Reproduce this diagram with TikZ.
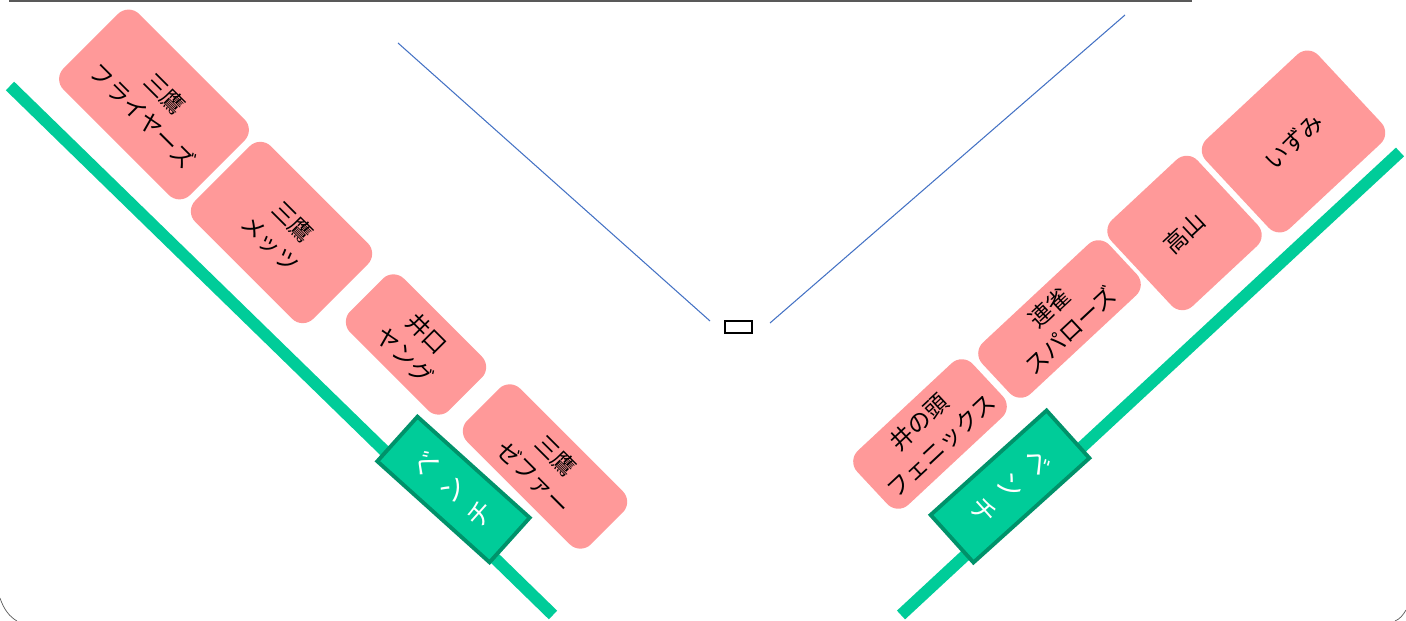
\documentclass[tikz,border=0pt]{standalone}
\usepackage{fontspec}
\newfontfamily\jpfont{Noto Sans CJK JP}
\usepackage{tikz}
\usepackage{color}

\definecolor{teamred}{RGB}{255,153,153}
\definecolor{benchgreen}{RGB}{0,204,153}
\definecolor{benchdark}{RGB}{0,146,106}
\definecolor{foulblue}{RGB}{68,114,196}

\tikzset{
  team/.style={fill=teamred, rounded corners=0.3cm, align=center, inner sep=0pt,
    font=\jpfont\fontsize{13.2}{18}\selectfont},
  bench/.style={fill=benchgreen, draw=benchdark, line width=2.2pt, align=center,
    text=white, inner sep=0pt, font=\jpfont\fontsize{15}{21}\selectfont},
  foulline/.style={foulblue, line width=0.6pt},
  benchline/.style={benchgreen, line width=6.8pt}
}

\begin{document}
\begin{tikzpicture}

\useasboundingbox (0,0) rectangle (28.12,12.42);

\draw[gray!70!black, line width=1.3pt] (0.18,12.41) -- (23.84,12.41);

\draw[gray!70!black] (0,0.46) .. controls (0.08,0.22) and (0.2,0.08) .. (0.34,0);

\draw[gray!70!black] (28.12,0.22) .. controls (28.06,0.12) and (28.0,0.04) .. (27.9,0);

\draw[foulline] (7.96,11.56) -- (14.20,6.00);

\draw[foulline] (22.50,12.12) -- (15.40,5.96);

\node[draw, line width=0.6pt, fill=white, minimum width=0.54cm, minimum height=0.24cm, inner sep=0pt] (home) at (14.77,5.88) {};

\draw[benchline] (0.20,10.70) -- (11.06,0.12);

\draw[benchline] (28.00,9.38) -- (18.02,0.12);

\node[bench, rotate=48, minimum width=1.20cm, minimum height=3.02cm] (benchleft) at (9.07,2.63) {ベ\\ン\\チ};

\node[bench, rotate=-48, minimum width=1.28cm, minimum height=3.12cm] (benchright) at (20.20,2.69) {ベ\\ン\\チ};

\node[team, rotate=-45, minimum width=3.58cm, minimum height=2.14cm] (fryers) at (3.08,10.33) {三鷹\\フライヤーズ};

\node[team, rotate=-45, minimum width=3.34cm, minimum height=2.14cm] (mets) at (5.63,7.77) {三鷹\\メッツ};

\node[team, rotate=-45, minimum width=2.80cm, minimum height=1.52cm] (young) at (8.32,5.53) {井口\\ヤング};

\node[team, rotate=-45, minimum width=3.50cm, minimum height=1.50cm] (zephyr) at (10.90,3.09) {三鷹\\ゼファー};

\node[team, rotate=43, minimum width=3.16cm, minimum height=1.48cm] (phoenix) at (18.60,3.74) {井の頭\\フェニックス};

\node[team, rotate=43, minimum width=3.48cm, minimum height=1.40cm] (sparrows) at (21.19,6.04) {連雀\\スパローズ};

\node[team, rotate=43, minimum width=2.36cm, minimum height=2.36cm] (takayama) at (23.69,7.76) {高山};

\node[team, rotate=43, minimum width=3.08cm, minimum height=2.44cm] (izumi) at (25.87,9.59) {いずみ};

\end{tikzpicture}
\end{document}
